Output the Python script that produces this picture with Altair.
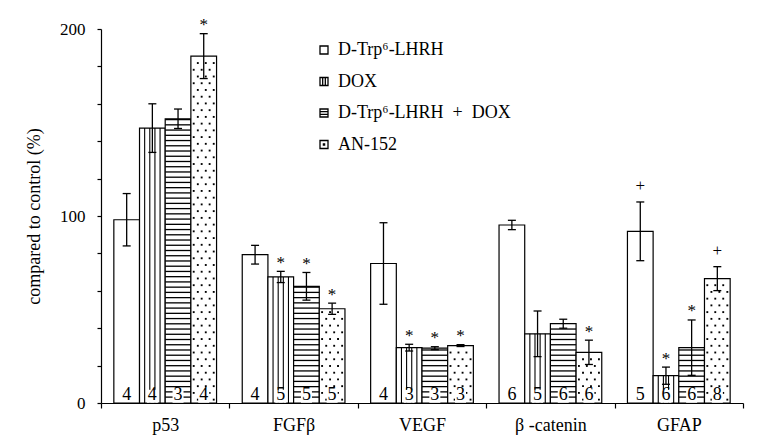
import altair as alt
import pandas as pd

FONT = "Liberation Serif, Times New Roman, serif"

categories = ["p53", "FGFβ", "VEGF", "β -catenin", "GFAP"]
treatments = ["D-Trp⁶-LHRH", "DOX", "D-Trp⁶-LHRH\u00a0\u00a0+\u00a0\u00a0DOX", "AN-152"]

dtrp_mean = [98, 79.3, 74.6, 95.2, 91.8]
dtrp_err = [14, 5, 21.8, 2.5, 15.7]
dtrp_n = [4, 4, 4, 6, 5]
dtrp_sig = ["", "", "", "", "+"]

dox_mean = [147, 67.4, 29.6, 37, 14.6]
dox_err = [13, 3, 1.8, 12.2, 4.6]
dox_n = [4, 5, 3, 5, 6]
dox_sig = ["", "*", "*", "", "*"]

combo_mean = [152, 62.4, 29.3, 42.4, 29.6]
combo_err = [5.2, 7.4, 0.8, 2.4, 14.8]
combo_n = [3, 5, 3, 6, 6]
combo_sig = ["", "*", "*", "", "*"]

an_mean = [185.5, 50.4, 30.7, 27.1, 66.5]
an_err = [12, 3, 0.5, 6.5, 6.4]
an_n = [4, 5, 3, 6, 8]
an_sig = ["*", "*", "*", "*", "+"]

y_labels = [0, 100, 200]
y_minor = [20, 40, 60, 80, 120, 140, 160, 180]

legend_paths = [
    "M-1,-1H1V1H-1Z",
    "M-1,-1H1V1H-1Z M-0.33,-1V1 M0.33,-1V1",
    "M-1,-1H1V1H-1Z M-1,-0.33H1 M-1,0.33H1",
    "M-1,-1H1V1H-1Z M-0.15,-0.15H0.15V0.15H-0.15Z",
]

rows = []
for ti, (t, m, e, n, s) in enumerate([
    (treatments[0], dtrp_mean, dtrp_err, dtrp_n, dtrp_sig),
    (treatments[1], dox_mean, dox_err, dox_n, dox_sig),
    (treatments[2], combo_mean, combo_err, combo_n, combo_sig),
    (treatments[3], an_mean, an_err, an_n, an_sig),
]):
    for c, mi, ei, ni, si in zip(categories, m, e, n, s):
        rows.append(dict(cat=c, treat=t, ti=ti, mean=mi, err=ei, n=ni, sig=si,
                         lo=mi - ei, hi=mi + ei))
df = pd.DataFrame(rows)

base = alt.Chart(df)

x_axis = alt.Axis(tickBand="extent", labelFont=FONT, labelFontSize=18,
                  labelColor="black", labelPadding=8, labelAngle=0,
                  tickSize=5, tickColor="black", tickWidth=1.2,
                  domainColor="black", domainWidth=1.2, zindex=1)
y_axis = alt.Axis(values=y_labels, orient="left",
                  title="compared to control (%)", titleFont=FONT,
                  titleFontSize=18, titleFontWeight="normal", titleColor="black",
                  titlePadding=16, labelFont=FONT, labelFontSize=17,
                  labelColor="black", labelPadding=12, tickSize=4,
                  tickColor="black", tickWidth=1.2, domainColor="black",
                  domainWidth=1.2, grid=False, zindex=1)
y_minor_axis = alt.Axis(values=y_minor, orient="left", labels=False,
                        domain=False, title=None, tickSize=4,
                        tickColor="black", tickWidth=1.2, grid=False, zindex=1)

x_enc = alt.X("cat:N", sort=categories, title=None,
              scale=alt.Scale(domain=categories, paddingInner=0, paddingOuter=0),
              axis=x_axis)
x_p = alt.X("cat:N", sort=categories, title=None)
xo_n = alt.XOffset("treat:N", sort=treatments,
                   scale=alt.Scale(type="band", domain=treatments,
                                   paddingInner=0, paddingOuter=0.5))
xo_q = alt.XOffset("pos:Q", scale=alt.Scale(domain=[0, 1], nice=False, zero=False))
y_scale = alt.Scale(domain=[0, 200], nice=False)


def yq(field, axis=None):
    return alt.Y(field, type="quantitative", axis=axis)


def yd(value):
    return alt.Y(datum=value, type="quantitative", axis=None)


is_dox = alt.FieldEqualPredicate(field="treat", equal=treatments[1])
is_combo = alt.FieldEqualPredicate(field="treat", equal=treatments[2])
is_an = alt.FieldEqualPredicate(field="treat", equal=treatments[3])
n_slots = len(treatments) + 1

bars = base.mark_bar(fill="white", stroke="black", strokeWidth=1.2).encode(
    x=x_enc, xOffset=xo_n,
    y=alt.Y("mean:Q", scale=y_scale, axis=y_axis))

vstripes = base.transform_filter(is_dox).transform_calculate(
    fr="[0.2, 0.4, 0.6, 0.8]"
).transform_flatten(["fr"]).transform_calculate(
    pos=f"(0.5 + datum.ti + datum.fr) / {n_slots}"
).mark_rule(color="black", strokeWidth=1.1).encode(
    x=x_p, xOffset=xo_q, y=yq("mean"), y2=alt.Y2(datum=0))

hstripes = base.transform_filter(is_combo).transform_calculate(
    s="sequence(2.8, datum.mean - 0.7, 2.8)"
).transform_flatten(["s"]).transform_calculate(
    s2="datum.s + 0.7"
).mark_bar(fill="black").encode(x=x_p, xOffset=xo_n, y=yq("s"), y2="s2")

dots = base.transform_filter(is_an).transform_calculate(
    s="sequence(1.8, datum.mean - 1, 3.6)"
).transform_flatten(["s"]).transform_calculate(
    fr="round((datum.s - 1.8) / 3.6) % 2 === 0 ? [0.27, 0.58, 0.89] : [0.11, 0.42, 0.73]"
).transform_flatten(["fr"]).transform_calculate(
    pos=f"(0.5 + datum.ti + datum.fr) / {n_slots}"
).mark_square(size=3.5, color="black", filled=True, opacity=1).encode(
    x=x_p, xOffset=xo_q, y=yq("s"))

boxes = base.transform_filter(alt.datum.ti > 0).mark_tick(
    color="white", thickness=13, size=11, opacity=1
).encode(x=x_p, xOffset=xo_n, y=yd(3.6))

counts = base.mark_text(font=FONT, fontSize=18, baseline="alphabetic", dy=-3,
                        color="black").encode(
    x=x_p, xOffset=xo_n, y=yd(0), text="n:Q")

err_rules = base.mark_rule(color="black", strokeWidth=1.3).encode(
    x=x_p, xOffset=xo_n, y=yq("lo", y_minor_axis), y2="hi")
caps = base.transform_fold(["lo", "hi"], as_=["k", "v"]).mark_tick(
    color="black", thickness=1.3, size=8, opacity=1).encode(
    x=x_p, xOffset=xo_n, y=yq("v"))

stars = base.transform_filter(alt.datum.sig == "*").mark_text(
    font=FONT, fontSize=17, baseline="alphabetic", dy=-3.5, color="black"
).encode(x=x_p, xOffset=xo_n, y=yq("hi"), text="sig:N")
pluses = base.transform_filter(alt.datum.sig == "+").mark_text(
    font=FONT, fontSize=17, baseline="alphabetic", dy=-11, color="black"
).encode(x=x_p, xOffset=xo_n, y=yq("hi"), text="sig:N")

legend_layer = base.transform_filter("false").mark_point(
    filled=False, color="black", strokeWidth=1.3, opacity=1
).encode(
    shape=alt.Shape("treat:N", sort=treatments,
                    scale=alt.Scale(domain=treatments, range=legend_paths),
                    legend=alt.Legend(title=None, orient="none", legendX=214,
                                      legendY=12, labelFont=FONT,
                                      labelFontSize=18, labelColor="black",
                                      symbolSize=64, symbolStrokeWidth=1.3,
                                      rowPadding=13.5, labelOffset=5,
                                      padding=0, labelLimit=400))
)

chart = alt.layer(
    bars, vstripes, hstripes, dots, boxes, counts, err_rules, caps,
    stars, pluses, legend_layer
).resolve_scale(xOffset="independent").resolve_axis(y="independent").properties(
    width=642, height=374,
    autosize=alt.AutoSizeParams(type="none"),
    padding={"left": 93, "top": 21, "right": 20, "bottom": 36},
    background="white",
).configure_view(stroke=None)

chart.save("out.html", embed_options={"renderer": "svg", "actions": False})
